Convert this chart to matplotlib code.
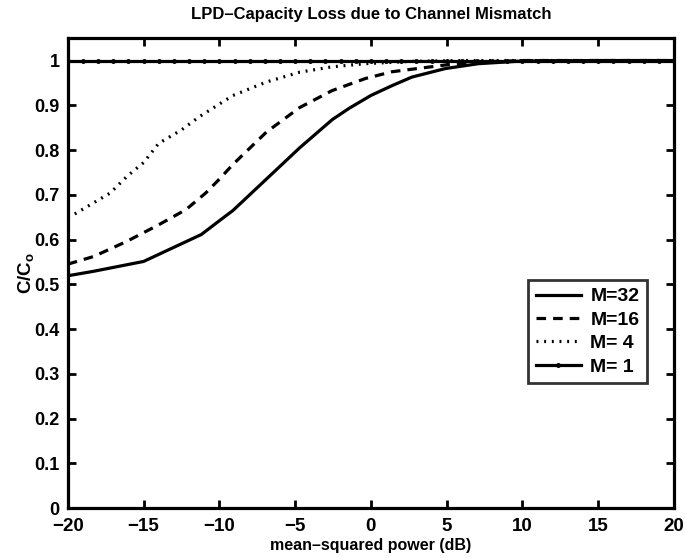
import numpy as np
import matplotlib
matplotlib.use("Agg")
import matplotlib.pyplot as plt

plt.rcParams['font.family'] = ['Liberation Sans', 'DejaVu Sans']
plt.rcParams['font.weight'] = 'bold'
plt.rcParams['mathtext.fontset'] = 'custom'
plt.rcParams['mathtext.rm'] = 'Liberation Sans:bold'
plt.rcParams['mathtext.bf'] = 'Liberation Sans:bold'
plt.rcParams['mathtext.it'] = 'Liberation Sans:bold'

# M=32 (solid)
x32 = [-20, -18.3, -15, -12.85, -11.2, -10, -9.1, -6.9, -4.7, -2.55, -1.45, 0, 1.4, 2.7, 4.9, 7.1, 10, 15, 20]
y32 = [0.519, 0.529, 0.551, 0.585, 0.611, 0.642, 0.665, 0.735, 0.805, 0.868, 0.893, 0.922, 0.944, 0.963, 0.982, 0.993, 0.999, 1.0, 1.0]
# M=16 (dashed)
x16 = [-20, -18.3, -16.1, -14, -12.2, -10.9, -10, -9.1, -6.9, -4.7, -2.55, -0.35, 1.4, 4.9, 7.5, 10, 20]
y16 = [0.545, 0.562, 0.596, 0.633, 0.667, 0.704, 0.735, 0.768, 0.84, 0.895, 0.933, 0.96, 0.975, 0.99, 0.997, 1.0, 1.0]
# M=4 (dotted)
x4 = [-20, -19.65, -18.3, -17.2, -16.1, -15, -14, -12.5, -11.3, -9.1, -6.9, -4.7, -2.55, -0.35, 2.5, 6, 20]
y4 = [0.65, 0.655, 0.682, 0.704, 0.741, 0.772, 0.815, 0.845, 0.875, 0.922, 0.952, 0.974, 0.986, 0.993, 0.998, 1.0, 1.0]
# M=1 (solid with dots)
x1 = list(range(-20, 21))
y1 = [1.0] * len(x1)

xticks = [-20, -15, -10, -5, 0, 5, 10, 15, 20]
yticks = [0, 0.1, 0.2, 0.3, 0.4, 0.5, 0.6, 0.7, 0.8, 0.9, 1]
ytick_labels = ['0', '0.1', '0.2', '0.3', '0.4', '0.5', '0.6', '0.7', '0.8', '0.9', '1']

fig = plt.figure(figsize=(6.85, 5.58), dpi=100)
ax = fig.add_axes([0.099, 0.0896, 0.885, 0.842])

ax.plot(x32, y32, color='black', lw=2.3, ls='-', label='M=32')
ax.plot(x16, y16, color='black', lw=2.3, ls=(0, (3, 2.2)), label='M=16')
ax.plot(x4, y4, color='black', lw=2.3, ls=(0, (0.6, 1.8)), label='M= 4')
ax.plot(x1, y1, color='black', lw=2.3, ls='-', marker='o', ms=2.5, label='M= 1')

ax.set_xlim(-20, 20)
ax.set_ylim(0, 1.05)
ax.set_xticks(xticks)
ax.set_yticks(yticks)
ax.set_yticklabels(ytick_labels)
ax.tick_params(direction='in', length=6, width=2, top=True, right=True)
ax.tick_params(axis='x', labelsize=13.5, pad=7)
ax.tick_params(axis='y', labelsize=13, pad=6)
for s in ax.spines.values():
    s.set_linewidth(2.3)

ax.set_title('LPD\u2013Capacity Loss due to Channel Mismatch', fontsize=12, fontweight='bold', pad=14)
ax.set_xlabel('mean\u2013squared power (dB)', fontsize=11.5, fontweight='bold', labelpad=2)
ax.set_ylabel(r'C/C$_\mathrm{o}$', fontsize=13.5, fontweight='bold', labelpad=-1)

leg = ax.legend(loc='lower right', bbox_to_anchor=(0.956, 0.265), fontsize=14,
                frameon=True, fancybox=False, edgecolor='black', handlelength=2.3,
                borderpad=0.4, labelspacing=0.3, handletextpad=0.5, borderaxespad=0)
leg.get_frame().set_linewidth(2)

fig.savefig('out.png', dpi=100)
